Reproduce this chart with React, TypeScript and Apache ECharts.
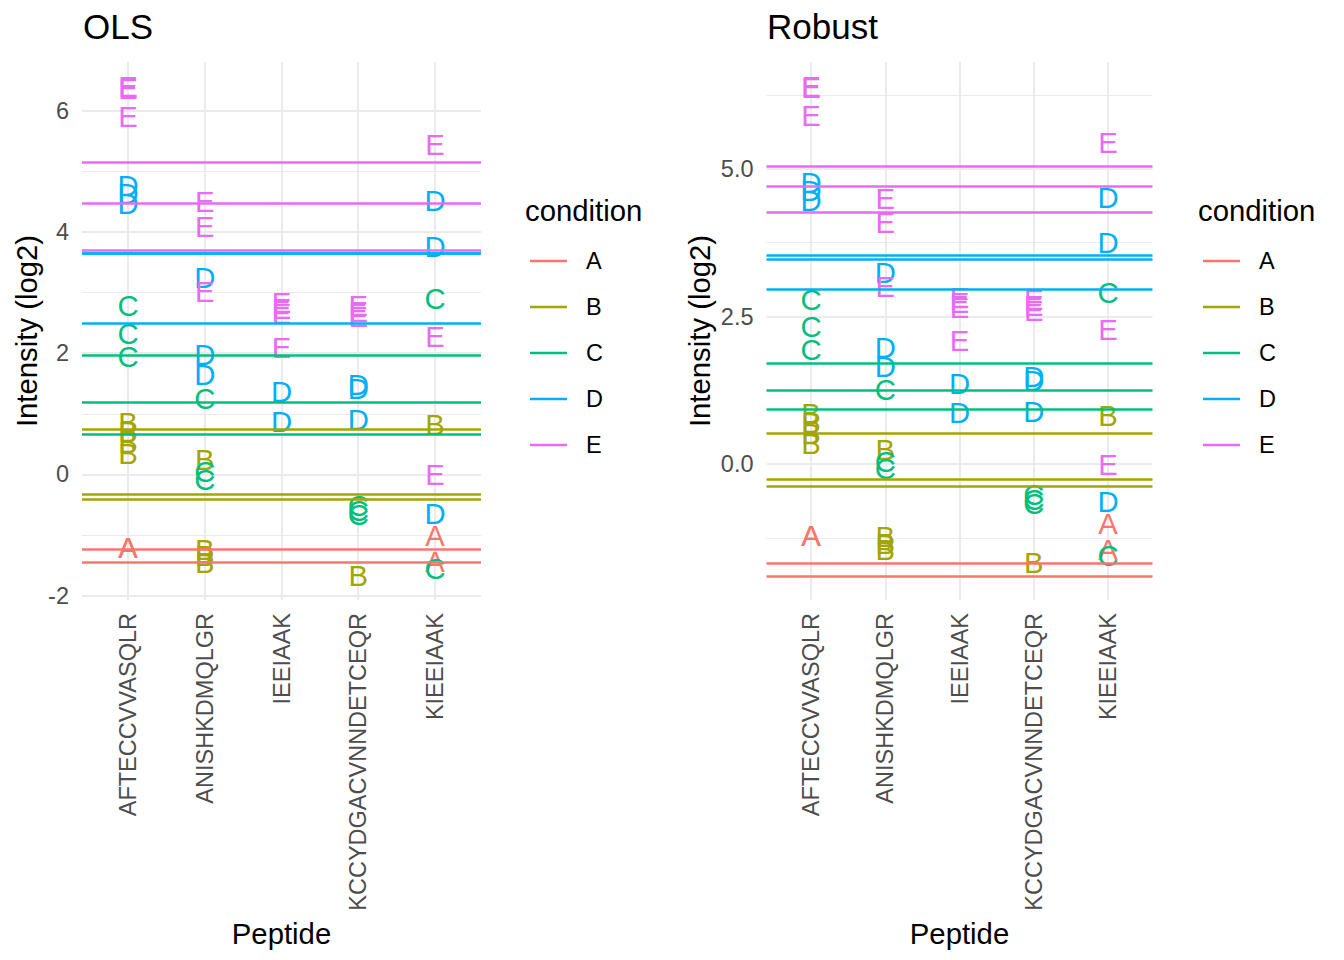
import React, { useEffect, useRef } from "react";
import * as echarts from "echarts";

const peptides = ["AFTECCVVASQLR", "ANISHKDMQLGR", "IEEIAAK", "KCCYDGACVNNDETCEQR", "KIEEIAAK"];
const conditions = ["A", "B", "C", "D", "E"];
const colors = ["#F8766D", "#A3A500", "#00BF7D", "#00B0F6", "#E76BF3"];

// observed intensities (log2): [peptide, value]
const pointsA: [string, number][] = [
  ["AFTECCVVASQLR", -1.2], ["AFTECCVVASQLR", -1.21],
  ["KIEEIAAK", -1.01], ["KIEEIAAK", -1.44],
];
const pointsB: [string, number][] = [
  ["AFTECCVVASQLR", 0.86], ["AFTECCVVASQLR", 0.7], ["AFTECCVVASQLR", 0.52], ["AFTECCVVASQLR", 0.35],
  ["ANISHKDMQLGR", 0.25], ["ANISHKDMQLGR", -1.23], ["ANISHKDMQLGR", -1.34], ["ANISHKDMQLGR", -1.45],
  ["KCCYDGACVNNDETCEQR", -1.67],
  ["KIEEIAAK", 0.82],
];
const pointsC: [string, number][] = [
  ["AFTECCVVASQLR", 2.79], ["AFTECCVVASQLR", 2.33], ["AFTECCVVASQLR", 1.95],
  ["ANISHKDMQLGR", 1.26], ["ANISHKDMQLGR", 0.05], ["ANISHKDMQLGR", -0.08],
  ["KCCYDGACVNNDETCEQR", -0.52], ["KCCYDGACVNNDETCEQR", -0.59], ["KCCYDGACVNNDETCEQR", -0.66],
  ["KIEEIAAK", 2.9], ["KIEEIAAK", -1.55],
];
const pointsD: [string, number][] = [
  ["AFTECCVVASQLR", 4.77], ["AFTECCVVASQLR", 4.64], ["AFTECCVVASQLR", 4.47],
  ["ANISHKDMQLGR", 3.24], ["ANISHKDMQLGR", 1.975], ["ANISHKDMQLGR", 1.65],
  ["IEEIAAK", 1.36], ["IEEIAAK", 0.88],
  ["KCCYDGACVNNDETCEQR", 1.48], ["KCCYDGACVNNDETCEQR", 1.41], ["KCCYDGACVNNDETCEQR", 0.9],
  ["KIEEIAAK", 4.51], ["KIEEIAAK", 3.76], ["KIEEIAAK", -0.64],
];
const pointsE: [string, number][] = [
  ["AFTECCVVASQLR", 6.4], ["AFTECCVVASQLR", 6.37], ["AFTECCVVASQLR", 5.9],
  ["ANISHKDMQLGR", 4.5], ["ANISHKDMQLGR", 4.09], ["ANISHKDMQLGR", 3.01],
  ["IEEIAAK", 2.83], ["IEEIAAK", 2.74], ["IEEIAAK", 2.66], ["IEEIAAK", 2.09],
  ["KCCYDGACVNNDETCEQR", 2.78], ["KCCYDGACVNNDETCEQR", 2.69], ["KCCYDGACVNNDETCEQR", 2.61],
  ["KIEEIAAK", 5.44], ["KIEEIAAK", 2.28], ["KIEEIAAK", 0.0],
];

// fitted lines (OLS)
const olsA = [-1.235, -1.45];
const olsB = [0.75, -0.32, -0.41];
const olsC = [1.96, 1.185, 0.67];
const olsD = [3.65, 3.64, 2.49];
const olsE = [5.14, 4.47, 3.69];
// fitted lines (Robust)
const robA = [-1.665, -1.89];
const robB = [0.53, -0.26, -0.37];
const robC = [1.714, 1.245, 0.931];
const robD = [3.54, 3.47, 2.966];
const robE = [5.036, 4.714, 4.257];

// axes
const olsMajorTicks = [-2, 0, 2, 4, 6];
const olsMinorTicks = [-1, 1, 3, 5];
const robMajorTicks = [0, 2.5, 5];
const robMinorTicks = [-1.25, 1.25, 3.75, 6.25];
const olsRange = [-2.07, 6.8];
const robRange = [-2.3, 6.81];

const FONT = "Liberation Sans, Arial, Helvetica, sans-serif";

const allPoints = [pointsA, pointsB, pointsC, pointsD, pointsE];
const olsLines = [olsA, olsB, olsC, olsD, olsE];
const robLines = [robA, robB, robC, robD, robE];

export default function App() {
  const ref = useRef<HTMLDivElement>(null);
  useEffect(() => {
    if (!ref.current) return;
    const chart = echarts.init(ref.current, undefined, { renderer: "svg" });

    const panels = [
      { left: 82, width: 399, range: olsRange, major: olsMajorTicks, minor: olsMinorTicks, lines: olsLines, nameGap: 41, fmt: (v: number) => String(v), legendLeft: 530, titleLeft: 83, title: "OLS" },
      { left: 766.5, width: 386, range: robRange, major: robMajorTicks, minor: robMinorTicks, lines: robLines, nameGap: 53, fmt: (v: number) => v.toFixed(1), legendLeft: 1203, titleLeft: 767, title: "Robust" },
    ];

    const grid = panels.map((p) => ({ left: p.left, width: p.width, top: 62, height: 538, containLabel: false, outerBoundsMode: "none" }));
    const xAxis = panels.map((p, i) => ({
      type: "value",
      gridIndex: i,
      min: 0.4,
      max: 5.6,
      name: "Peptide",
      nameLocation: "middle",
      nameGap: 306,
      nameTextStyle: { fontSize: 29.3, color: "#000", fontFamily: FONT },
      axisLine: { show: false },
      axisTick: { show: false },
      splitLine: { show: false },
      axisLabel: {
        customValues: peptides.map((_, k) => k + 1),
        formatter: (v: number) => peptides[Math.round(v) - 1] || "",
        rotate: 90,
        margin: 13,
        fontSize: 23.5,
        color: "#4D4D4D",
        fontFamily: FONT,
      },
    }));
    const yAxis = panels.map((p, i) => ({
      type: "value",
      gridIndex: i,
      min: p.range[0],
      max: p.range[1],
      name: "Intensity (log2)",
      nameLocation: "middle",
      nameGap: p.nameGap,
      nameTextStyle: { fontSize: 29.3, color: "#000", fontFamily: FONT },
      axisLine: { show: false },
      axisTick: { show: false },
      splitLine: { show: false },
      axisLabel: {
        customValues: p.major,
        formatter: p.fmt,
        margin: 13,
        fontSize: 23.5,
        color: "#4D4D4D",
        fontFamily: FONT,
      },
    }));

    const series: any[] = [];
    panels.forEach((p, i) => {
      series.push({
        type: "scatter",
        name: "__grid" + i,
        xAxisIndex: i,
        yAxisIndex: i,
        data: [],
        silent: true,
        z: 0,
        markLine: {
          silent: true,
          z: 0,
          symbol: ["none", "none"],
          label: { show: false },
          emphasis: { disabled: true },
          data: [
            ...p.minor.map((v) => ({ yAxis: v, lineStyle: { color: "#EBEBEB", width: 1.1, type: "solid", opacity: 1 } })),
            ...p.major.map((v) => ({ yAxis: v, lineStyle: { color: "#EBEBEB", width: 2.1, type: "solid", opacity: 1 } })),
            ...peptides.map((_, k) => ({ xAxis: k + 1, lineStyle: { color: "#EBEBEB", width: 2.1, type: "solid", opacity: 1 } })),
          ],
        },
      });
      conditions.forEach((c, ci) => {
        series.push({
          type: "scatter",
          name: c,
          xAxisIndex: i,
          yAxisIndex: i,
          symbolSize: 0,
          itemStyle: { color: colors[ci], opacity: 1 },
          emphasis: { disabled: true },
          label: {
            show: true,
            position: "inside",
            formatter: c,
            color: colors[ci],
            opacity: 1,
            fontSize: 29.3,
            fontFamily: FONT,
          },
          data: allPoints[ci].map(([pep, v]) => [peptides.indexOf(pep) + 1, v]),
          markLine: {
            silent: true,
            z: 5,
            symbol: ["none", "none"],
            label: { show: false },
            emphasis: { disabled: true },
            lineStyle: { color: colors[ci], width: 2.6, type: "solid", opacity: 1 },
            data: p.lines[ci].map((v) => ({ yAxis: v })),
          },
        });
      });
    });

    const titleStyle = { fontSize: 35, fontWeight: "normal", color: "#000", fontFamily: FONT };
    const legTitleStyle = { fontSize: 29.3, fontWeight: "normal", color: "#000", fontFamily: FONT };

    chart.setOption({
      animation: false,
      backgroundColor: "#fff",
      title: [
        ...panels.map((p) => ({ text: p.title, left: p.titleLeft, top: 9, padding: 0, textStyle: titleStyle })),
        ...panels.map((p) => ({ text: "condition", left: p.legendLeft - 5, top: 196, padding: 0, textStyle: legTitleStyle })),
      ],
      legend: panels.map((p) => ({
        orient: "vertical",
        left: p.legendLeft,
        top: 249,
        padding: 0,
        data: conditions,
        icon: "rect",
        itemWidth: 37,
        itemHeight: 2.6,
        itemGap: 22,
        selectedMode: false,
        itemStyle: { opacity: 1 },
        textStyle: { fontSize: 23.5, lineHeight: 24, color: "#000", fontFamily: FONT, padding: [0, 0, 0, 14] },
      })),
      grid,
      xAxis,
      yAxis,
      series,
    });
    return () => chart.dispose();
  }, []);
  return <div ref={ref} style={{ position: "fixed", left: 0, top: 0, width: 1344, height: 960, background: "#fff" }} />;
}
